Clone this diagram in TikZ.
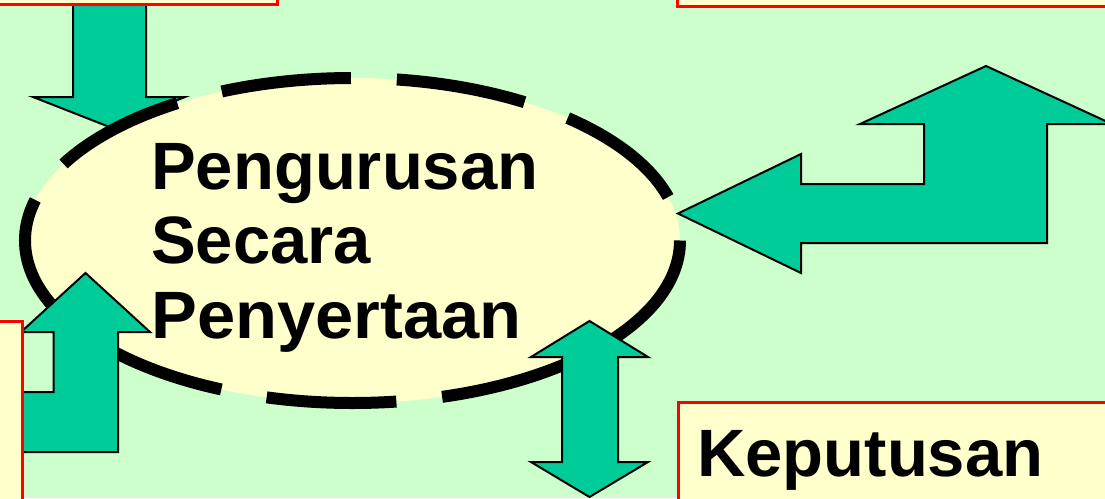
\documentclass[tikz,border=0pt]{standalone}
\usepackage{fontspec}
\setmainfont{Liberation Sans}
\definecolor{bgc}{HTML}{CCFFCC}
\definecolor{arrowc}{HTML}{00CC99}
\definecolor{paleyellow}{HTML}{FFFFCC}
\begin{document}
\begin{tikzpicture}[x=1pt,y=-1pt,
  blockarrow/.style={fill=arrowc, draw=black, line width=2pt, line join=miter},
  redbox/.style={fill=paleyellow, draw=red, line width=3pt},
  ellfill/.style={fill=paleyellow},
  ellline/.style={draw=black, line width=12pt, dash pattern=on 130pt off 46pt},
  bigtext/.style={font=\fontsize{67}{75}\selectfont\bfseries, inner sep=0pt, anchor=base west}]
\useasboundingbox (0,0) rectangle (1105,498);
\clip (0,0) rectangle (1105,498);
\fill[bgc] (0,0) rectangle (1105,498);
% arrow from top-left box down to the ellipse
\draw[blockarrow] (73,-5) -- (73,97) -- (33,97) -- (109.5,127) -- (185,97) -- (146,97) -- (146,-5) -- cycle;
% ellipse
\coordinate (ec) at (352.5,240.5);
\fill[ellfill] (ec) ellipse [x radius=327.5, y radius=162.5];
\draw[ellline] (ec) ++(327.5,0) arc[start angle=0, end angle=360, x radius=327.5, y radius=162.5];
% bent arrow on the right
\draw[blockarrow] (678,213.5) -- (801,154) -- (801,184) -- (924,184) -- (924,124) -- (860,124)
  -- (986,66) -- (1112,124) -- (1047,124) -- (1047,243) -- (801,243) -- (801,273) -- cycle;
% bent arrow on the left
\draw[blockarrow] (85.5,273) -- (150,332) -- (118,332) -- (118,452) -- (-5,452) -- (-5,392)
  -- (53.5,392) -- (53.5,332) -- (21,332) -- cycle;
% double arrow at the bottom
\draw[blockarrow] (589.5,321) -- (648,357) -- (618,357) -- (618,462) -- (648,462) -- (589.5,497)
  -- (531,462) -- (562,462) -- (562,357) -- (531,357) -- cycle;
% boxes
\draw[redbox] (-10,-10) rectangle (277,4);
\draw[redbox] (677,-10) rectangle (1115,6);
\draw[redbox] (-10,321) rectangle (22,510);
\draw[redbox] (678,402) rectangle (1115,510);
% texts
\node[bigtext] (t1) at (151,189) {Pengurusan};
\node[bigtext] (t2) at (151,263.5) {Secara};
\node[bigtext, xscale=1.025] (t3) at (151,338) {Penyertaan};
\node[bigtext] (t4) at (697,476) {Keputusan};
\end{tikzpicture}
\end{document}
